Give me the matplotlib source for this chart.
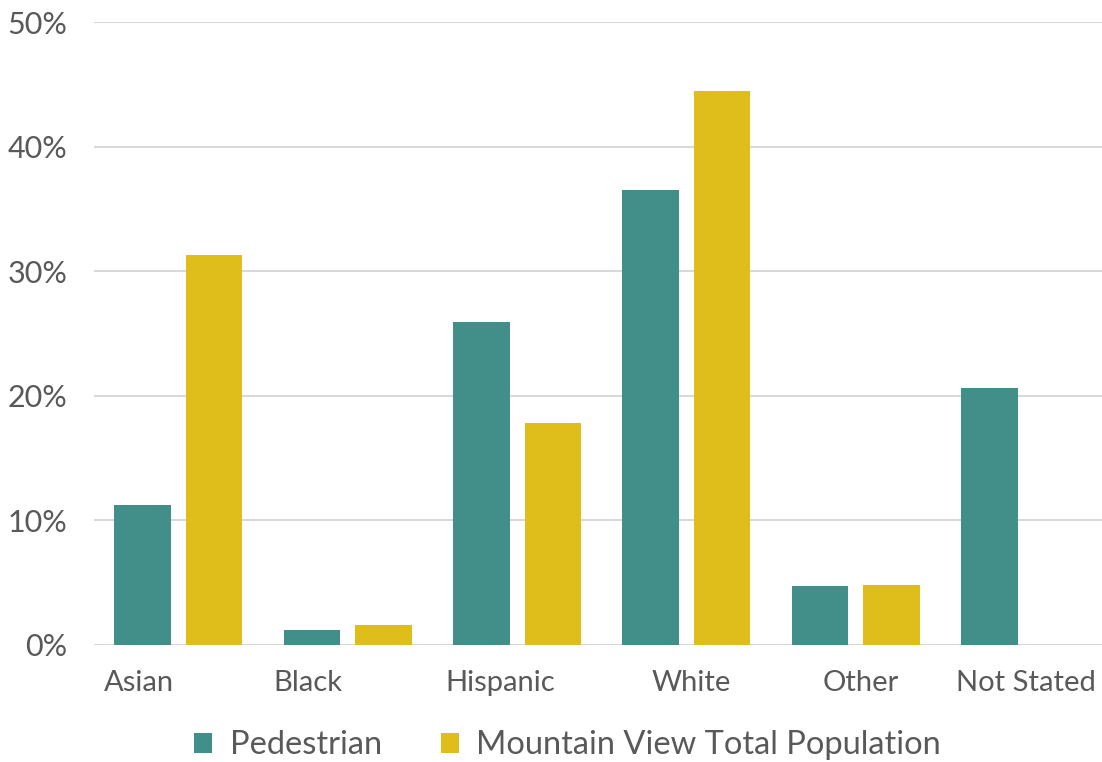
import numpy as np
import matplotlib.pyplot as plt

# Race / ethnicity share: pedestrian victims vs city population
categories = ['Asian', 'Black', 'Hispanic', 'White', 'Other', 'Not Stated']
pedestrian = [11.2, 1.2, 25.9, 36.5, 4.7, 20.6]
total_pop = [31.3, 1.6, 17.8, 44.5, 4.8, 0.0]
label_shift = [-0.236, -0.236, -0.10, 0.03, 0.03, 0.006]

teal = '#428E89'
gold = '#DFBE1B'
text_color = '#595959'

plt.rcParams['font.family'] = ['Lato', 'DejaVu Sans']

fig = plt.figure(figsize=(11.02, 7.62), dpi=100)
ax = fig.add_axes([93.8 / 1102, 117 / 762, 1016 / 1102, 623 / 762])

x = np.arange(len(categories))
w = 0.333
off = 0.2115
ax.bar(x - off, pedestrian, w, color=teal, label='Pedestrian', zorder=3)
ax.bar(x + off, total_pop, w, color=gold, label='Mountain View Total Population', zorder=3)

ax.set_xlim(-0.5, len(categories) - 0.5)
ax.set_ylim(0, 50)
ax.set_yticks(range(0, 51, 10))
ax.set_yticklabels([f'{v}%' for v in range(0, 51, 10)])
ax.set_xticks(x + np.array(label_shift))
ax.set_xticklabels(categories)

ax.grid(axis='y', color='#D9D9D9', linewidth=1.5, zorder=0)
for s in ax.spines.values():
    s.set_visible(False)
ax.tick_params(axis='both', length=0, colors=text_color)
ax.tick_params(axis='y', pad=19, labelsize=22)
ax.tick_params(axis='x', pad=18, labelsize=21)

leg = fig.legend(loc='center', bbox_to_anchor=(0.515, 0.022), ncol=2, frameon=False,
                 fontsize=23.5, handlelength=0.55, handleheight=0.55, handletextpad=0.55,
                 columnspacing=1.8)
for t in leg.get_texts():
    t.set_color(text_color)

fig.savefig('out.png', dpi=100)
